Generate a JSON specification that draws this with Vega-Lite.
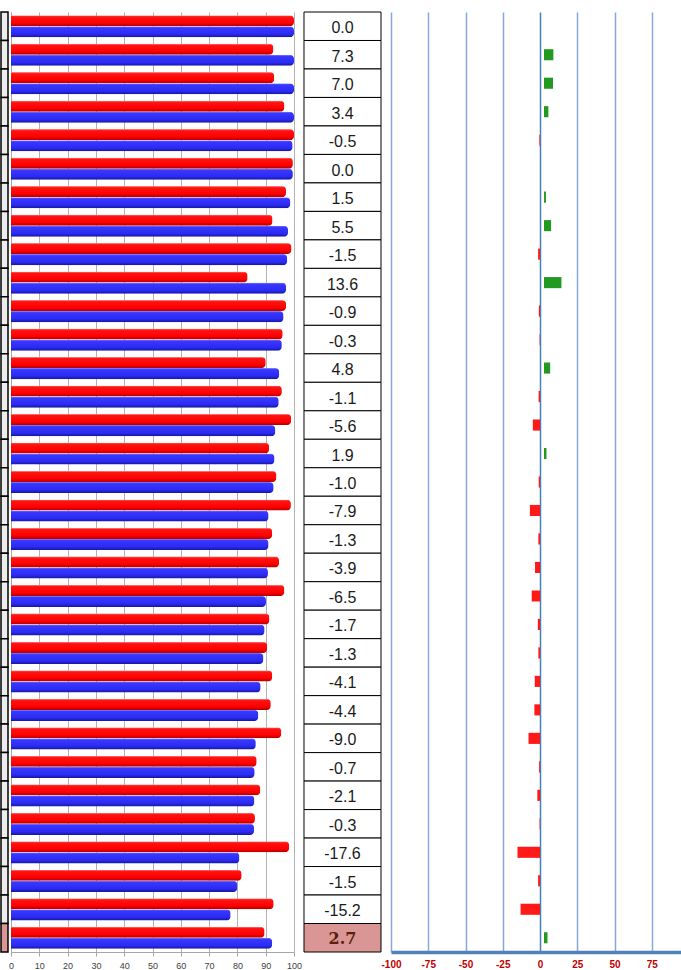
{
  "$schema": "https://vega.github.io/schema/vega-lite/v6.json",
  "padding": {"left": 0, "top": 11, "right": 0, "bottom": 0},
  "background": "white",
  "config": {"view": {"stroke": null}},
  "datasets": {
    "bars": [
      {"row": 1, "series": "red", "value": 100.0}, {"row": 1, "series": "blue", "value": 100.0},
      {"row": 2, "series": "red", "value": 92.7}, {"row": 2, "series": "blue", "value": 100.0},
      {"row": 3, "series": "red", "value": 93.0}, {"row": 3, "series": "blue", "value": 100.0},
      {"row": 4, "series": "red", "value": 96.6}, {"row": 4, "series": "blue", "value": 100.0},
      {"row": 5, "series": "red", "value": 100.0}, {"row": 5, "series": "blue", "value": 99.5},
      {"row": 6, "series": "red", "value": 99.6}, {"row": 6, "series": "blue", "value": 99.6},
      {"row": 7, "series": "red", "value": 97.2}, {"row": 7, "series": "blue", "value": 98.7},
      {"row": 8, "series": "red", "value": 92.4}, {"row": 8, "series": "blue", "value": 97.9},
      {"row": 9, "series": "red", "value": 99.1}, {"row": 9, "series": "blue", "value": 97.6},
      {"row": 10, "series": "red", "value": 83.6}, {"row": 10, "series": "blue", "value": 97.2},
      {"row": 11, "series": "red", "value": 97.2}, {"row": 11, "series": "blue", "value": 96.3},
      {"row": 12, "series": "red", "value": 96.0}, {"row": 12, "series": "blue", "value": 95.7},
      {"row": 13, "series": "red", "value": 90.0}, {"row": 13, "series": "blue", "value": 94.8},
      {"row": 14, "series": "red", "value": 95.7}, {"row": 14, "series": "blue", "value": 94.6},
      {"row": 15, "series": "red", "value": 99.0}, {"row": 15, "series": "blue", "value": 93.4},
      {"row": 16, "series": "red", "value": 91.2}, {"row": 16, "series": "blue", "value": 93.1},
      {"row": 17, "series": "red", "value": 93.8}, {"row": 17, "series": "blue", "value": 92.8},
      {"row": 18, "series": "red", "value": 98.9}, {"row": 18, "series": "blue", "value": 91.0},
      {"row": 19, "series": "red", "value": 92.3}, {"row": 19, "series": "blue", "value": 91.0},
      {"row": 20, "series": "red", "value": 94.7}, {"row": 20, "series": "blue", "value": 90.8},
      {"row": 21, "series": "red", "value": 96.6}, {"row": 21, "series": "blue", "value": 90.1},
      {"row": 22, "series": "red", "value": 91.3}, {"row": 22, "series": "blue", "value": 89.6},
      {"row": 23, "series": "red", "value": 90.5}, {"row": 23, "series": "blue", "value": 89.2},
      {"row": 24, "series": "red", "value": 92.3}, {"row": 24, "series": "blue", "value": 88.2},
      {"row": 25, "series": "red", "value": 91.8}, {"row": 25, "series": "blue", "value": 87.4},
      {"row": 26, "series": "red", "value": 95.5}, {"row": 26, "series": "blue", "value": 86.5},
      {"row": 27, "series": "red", "value": 86.8}, {"row": 27, "series": "blue", "value": 86.1},
      {"row": 28, "series": "red", "value": 88.1}, {"row": 28, "series": "blue", "value": 86.0},
      {"row": 29, "series": "red", "value": 86.2}, {"row": 29, "series": "blue", "value": 85.9},
      {"row": 30, "series": "red", "value": 98.3}, {"row": 30, "series": "blue", "value": 80.7},
      {"row": 31, "series": "red", "value": 81.5}, {"row": 31, "series": "blue", "value": 80.0},
      {"row": 32, "series": "red", "value": 92.8}, {"row": 32, "series": "blue", "value": 77.6},
      {"row": 33, "series": "red", "value": 89.6}, {"row": 33, "series": "blue", "value": 92.3}
    ],
    "diffs": [
      {"row": 1, "diff": 0.0, "label": "0.0", "kind": "row"},
      {"row": 2, "diff": 7.3, "label": "7.3", "kind": "row"},
      {"row": 3, "diff": 7.0, "label": "7.0", "kind": "row"},
      {"row": 4, "diff": 3.4, "label": "3.4", "kind": "row"},
      {"row": 5, "diff": -0.5, "label": "-0.5", "kind": "row"},
      {"row": 6, "diff": 0.0, "label": "0.0", "kind": "row"},
      {"row": 7, "diff": 1.5, "label": "1.5", "kind": "row"},
      {"row": 8, "diff": 5.5, "label": "5.5", "kind": "row"},
      {"row": 9, "diff": -1.5, "label": "-1.5", "kind": "row"},
      {"row": 10, "diff": 13.6, "label": "13.6", "kind": "row"},
      {"row": 11, "diff": -0.9, "label": "-0.9", "kind": "row"},
      {"row": 12, "diff": -0.3, "label": "-0.3", "kind": "row"},
      {"row": 13, "diff": 4.8, "label": "4.8", "kind": "row"},
      {"row": 14, "diff": -1.1, "label": "-1.1", "kind": "row"},
      {"row": 15, "diff": -5.6, "label": "-5.6", "kind": "row"},
      {"row": 16, "diff": 1.9, "label": "1.9", "kind": "row"},
      {"row": 17, "diff": -1.0, "label": "-1.0", "kind": "row"},
      {"row": 18, "diff": -7.9, "label": "-7.9", "kind": "row"},
      {"row": 19, "diff": -1.3, "label": "-1.3", "kind": "row"},
      {"row": 20, "diff": -3.9, "label": "-3.9", "kind": "row"},
      {"row": 21, "diff": -6.5, "label": "-6.5", "kind": "row"},
      {"row": 22, "diff": -1.7, "label": "-1.7", "kind": "row"},
      {"row": 23, "diff": -1.3, "label": "-1.3", "kind": "row"},
      {"row": 24, "diff": -4.1, "label": "-4.1", "kind": "row"},
      {"row": 25, "diff": -4.4, "label": "-4.4", "kind": "row"},
      {"row": 26, "diff": -9.0, "label": "-9.0", "kind": "row"},
      {"row": 27, "diff": -0.7, "label": "-0.7", "kind": "row"},
      {"row": 28, "diff": -2.1, "label": "-2.1", "kind": "row"},
      {"row": 29, "diff": -0.3, "label": "-0.3", "kind": "row"},
      {"row": 30, "diff": -17.6, "label": "-17.6", "kind": "row"},
      {"row": 31, "diff": -1.5, "label": "-1.5", "kind": "row"},
      {"row": 32, "diff": -15.2, "label": "-15.2", "kind": "row"},
      {"row": 33, "diff": 2.7, "label": "2.7", "kind": "total"}
    ]
  },
  "bounds": "flush",
  "spacing": 3,
  "resolve": {"scale": {"fill": "independent", "x": "independent", "y": "independent"}},
  "hconcat": [
    {
      "width": 7,
      "height": 940,
      "data": {"name": "diffs"},
      "mark": {"type": "rect", "stroke": "#000000", "strokeWidth": 1.5},
      "encoding": {
        "y": {"field": "row", "type": "ordinal", "axis": null, "scale": {"paddingInner": 0, "paddingOuter": 0}},
        "x": {"datum": "cell", "type": "nominal", "axis": null, "scale": {"paddingInner": 0, "paddingOuter": 0}},
        "fill": {"field": "kind", "type": "nominal", "legend": null, "scale": {"domain": ["row", "total"], "range": ["#ececec", "#d99694"]}}
      }
    },
    {
      "width": 283,
      "height": 940,
      "data": {"name": "bars"},
      "encoding": {
        "y": {"field": "row", "type": "ordinal", "scale": {"paddingInner": 0.22, "paddingOuter": 0.11},
              "axis": {"labels": false, "ticks": false, "title": null, "domainColor": "#a6a6a6"}},
        "yOffset": {"field": "series", "type": "nominal", "scale": {"domain": ["red", "blue"], "paddingInner": 0, "paddingOuter": 0}},
        "x": {"field": "value", "type": "quantitative", "scale": {"domain": [0, 100], "nice": false},
              "axis": {"values": [0, 10, 20, 30, 40, 50, 60, 70, 80, 90, 100], "title": null, "grid": true,
                       "gridColor": "#b3b3b3", "gridWidth": 1, "domainColor": "#a6a6a6", "tickColor": "#a6a6a6",
                       "tickSize": 4, "labelFont": "Liberation Sans", "labelFontSize": 9, "labelColor": "#404040",
                       "labelPadding": 5, "labelFlush": false}}
      },
      "layer": [
        {
          "transform": [{"filter": "datum.series === 'red'"}],
          "mark": {"type": "bar", "cornerRadiusEnd": 4,
                   "color": {"gradient": "linear", "x1": 0, "y1": 0, "x2": 0, "y2": 1,
                             "stops": [{"offset": 0, "color": "#ff9a9a"}, {"offset": 0.14, "color": "#ff1414"},
                                       {"offset": 0.7, "color": "#ff0000"}, {"offset": 1, "color": "#b00000"}]}}
        },
        {
          "transform": [{"filter": "datum.series === 'blue'"}],
          "mark": {"type": "bar", "cornerRadiusEnd": 4,
                   "color": {"gradient": "linear", "x1": 0, "y1": 0, "x2": 0, "y2": 1,
                             "stops": [{"offset": 0, "color": "#8c8cff"}, {"offset": 0.14, "color": "#3838ff"},
                                       {"offset": 0.7, "color": "#2b2bf5"}, {"offset": 1, "color": "#1616a0"}]}}
        }
      ]
    },
    {
      "width": 91,
      "height": 940,
      "data": {"name": "diffs"},
      "encoding": {
        "y": {"field": "row", "type": "ordinal", "axis": null, "scale": {"paddingInner": 0, "paddingOuter": 0}},
        "x": {"datum": "cell", "type": "nominal", "axis": null, "scale": {"paddingInner": 0, "paddingOuter": 0.0909}}
      },
      "layer": [
        {
          "mark": {"type": "rect", "stroke": "#000000", "strokeWidth": 1},
          "encoding": {
            "fill": {"field": "kind", "type": "nominal", "legend": null, "scale": {"domain": ["row", "total"], "range": ["#ffffff", "#d99694"]}}
          }
        },
        {
          "transform": [{"filter": "datum.kind === 'row'"}],
          "mark": {"type": "text", "font": "Liberation Sans", "fontSize": 16, "dy": 2, "color": "#1a1a1a"},
          "encoding": {"text": {"field": "label", "type": "nominal"}}
        },
        {
          "transform": [{"filter": "datum.kind === 'total'"}],
          "mark": {"type": "text", "font": "DejaVu Serif", "fontWeight": "bold", "fontSize": 16, "dy": 1, "color": "#5a200a"},
          "encoding": {"text": {"field": "label", "type": "nominal"}}
        }
      ]
    },
    {
      "width": 291,
      "height": 940,
      "data": {"name": "diffs"},
      "encoding": {
        "y": {"field": "row", "type": "ordinal", "axis": null, "scale": {"paddingInner": 0.61, "paddingOuter": 0.305}}
      },
      "layer": [
        {
          "mark": {"type": "point", "opacity": 0},
          "encoding": {
            "x": {"field": "diff", "type": "quantitative", "scale": {"domain": [-100, 95.3], "nice": false, "zero": false},
                  "axis": {"values": [-100, -75, -50, -25, 0, 25, 50, 75], "title": null, "grid": true,
                           "gridColor": {"condition": {"test": "datum.value === 0", "value": "#4a7ebb"}, "value": "#86a9d8"},
                           "gridWidth": 1.5, "domainColor": "#4f81bd", "domainWidth": 3.5, "ticks": false,
                           "labelColor": "#c00000", "labelFont": "Liberation Sans", "labelFontWeight": "bold",
                           "labelFontSize": 10, "labelPadding": 7, "labelExpr": "'' + datum.value", "labelFlush": false}}
          }
        },
        {
          "transform": [{"filter": "datum.diff < 0"}],
          "mark": {"type": "bar", "color": "#ff1a1a"},
          "encoding": {
            "x": {"field": "diff", "type": "quantitative", "scale": {"domain": [-116.4, 110.9], "nice": false}, "axis": null}
          }
        },
        {
          "transform": [{"filter": "datum.diff > 0"}],
          "mark": {"type": "bar", "color": "#229a22", "xOffset": 4, "x2Offset": 4},
          "encoding": {
            "x": {"field": "diff", "type": "quantitative", "scale": {"domain": [-116.4, 110.9], "nice": false}, "axis": null}
          }
        }
      ],
      "resolve": {"scale": {"x": "independent"}}
    }
  ]
}
